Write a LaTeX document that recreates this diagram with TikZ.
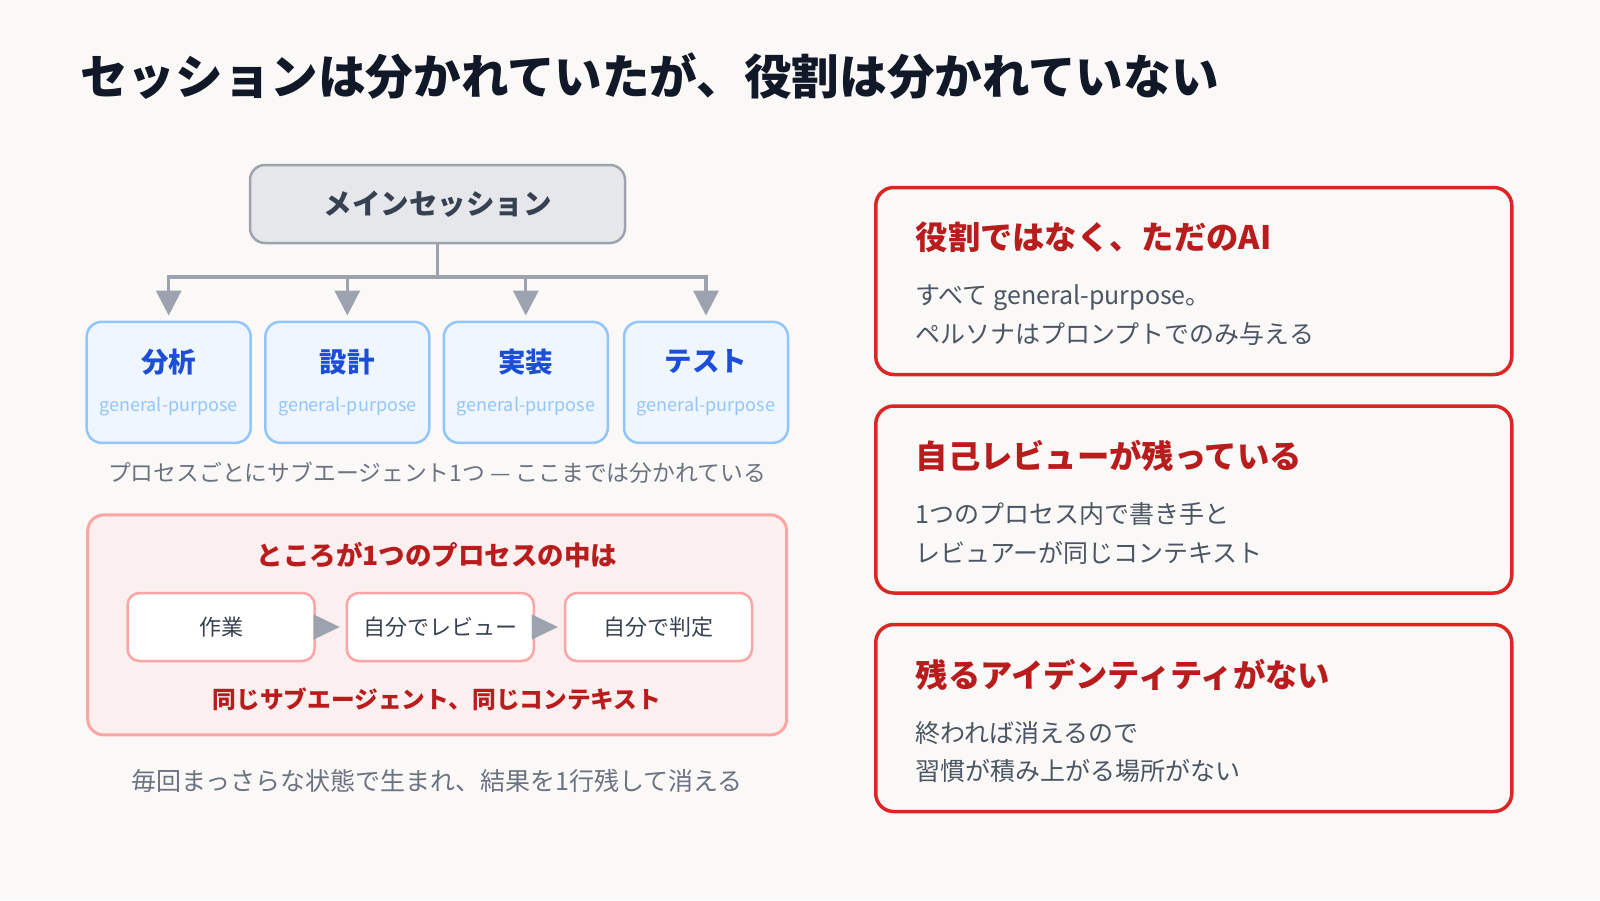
\documentclass[tikz,border=0pt]{standalone}
\usepackage{fontspec}
\setmainfont{Noto Sans CJK JP}
\usepackage{tikz}
\usetikzlibrary{arrows.meta}
\usepackage{color}
\definecolor{pagebg}{HTML}{FAF9F7}
\definecolor{inkdark}{HTML}{111827}
\definecolor{maintext}{HTML}{374151}
\definecolor{mainfill}{HTML}{E5E7EB}
\definecolor{linegray}{HTML}{9CA3AF}
\definecolor{subfill}{HTML}{EFF6FF}
\definecolor{subline}{HTML}{93C5FD}
\definecolor{subtext}{HTML}{1D4ED8}
\definecolor{notegray}{HTML}{6B7280}
\definecolor{bodygray}{HTML}{4B5563}
\definecolor{pinkfill}{HTML}{FCEFEF}
\definecolor{pinkline}{HTML}{FCA5A5}
\definecolor{redline}{HTML}{DC2626}
\definecolor{redtext}{HTML}{B91C1C}

\begin{document}
\begin{tikzpicture}[x=1pt, y=-1pt,
	headline/.style={anchor=west, inner sep=0pt, text=inkdark, font=\bfseries\fontsize{47.6}{56}\selectfont},
	mainbox/.style={draw=linegray, fill=mainfill, line width=2.5pt, rounded corners=15pt, minimum width=375pt, minimum height=78pt, text=maintext, font=\bfseries\fontsize{28.5}{34}\selectfont},
	subbox/.style={draw=subline, fill=subfill, line width=2.5pt, rounded corners=15pt, minimum width=164pt, minimum height=121pt},
	subname/.style={inner sep=0pt, text=subtext, font=\bfseries\fontsize{27.5}{32}\selectfont},
	subnote/.style={inner sep=0pt, text=subline, font=\fontsize{18}{22}\selectfont},
	tree/.style={draw=linegray, line width=3.3pt},
	treearrow/.style={tree, -{Triangle[length=25pt, width=25pt]}, shorten >=5pt},
	caption/.style={inner sep=0pt, text=notegray, font=\fontsize{22.8}{28}\selectfont},
	processbox/.style={draw=pinkline, fill=pinkfill, line width=3pt, rounded corners=16pt, minimum width=699pt, minimum height=220pt},
	processtext/.style={inner sep=0pt, text=redtext, font=\bfseries\fontsize{26.5}{30}\selectfont},
	stepbox/.style={draw=pinkline, fill=white, line width=2.5pt, rounded corners=12pt, minimum width=187pt, minimum height=68pt, text=maintext, font=\fontsize{22}{26}\selectfont},
	steptip/.style={draw=linegray, line width=0.4pt, -{Triangle[length=26pt, width=25pt]}, shorten >=6pt},
	notebox/.style={draw=redline, fill=pagebg, line width=3.5pt, rounded corners=18pt, minimum width=636pt, minimum height=187pt},
	notehead/.style={anchor=west, inner sep=0pt, text=redtext, font=\bfseries\fontsize{32.3}{38}\selectfont},
	notebody/.style={anchor=west, align=left, inner sep=0pt, text=bodygray, font=\fontsize{25}{38.7}\selectfont}]
	\fill[pagebg] (0,0) rectangle (1600,900);
	\useasboundingbox (0,0) rectangle (1600,900);
	\node[headline] (headline) at (80,76.5) {セッションは分かれていたが、役割は分かれていない};
	\node[mainbox] (main) at (437.5,204) {メインセッション};
	\coordinate (fork) at (437.5,277);
	\draw[tree] (main) -- (fork);
	\foreach \x/\name/\n in {168.7/分析/analysis, 347.3/設計/design, 525.8/実装/impl, 706/テスト/test} {
		\node[subbox] (\n) at (\x,382.3) {};
		\node[subname] (\n-name) at (\x,362) {\name};
		\node[subnote] (\n-note) at (\x,406.7) {general-purpose};
		\draw[treearrow] (fork) -| (\n.north);
	}
	\node[caption] (split-note) at (437,473) {プロセスごとにサブエージェント1つ — ここまでは分かれている};
	\node[processbox] (process) at (437.2,624.9) {};
	\node[processtext] (process-head) at (437,555) {ところが1つのプロセスの中は};
	\node[processtext, font=\bfseries\fontsize{23.7}{28}\selectfont] (process-foot) at (437,699) {同じサブエージェント、同じコンテキスト};
	\foreach \x/\t/\n in {221/作業/work, 440.3/自分でレビュー/review, 658.5/自分で判定/judge}
		\node[stepbox] (\n) at (\x,627) {\t};
	\draw[steptip] (work) -- (review);
	\draw[steptip] (review) -- (judge);
	\node[caption, font=\fontsize{25}{30}\selectfont] (life-note) at (437,780.6) {毎回まっさらな状態で生まれ、結果を1行残して消える};
	\foreach \y/\head/\body/\n in {281/{役割ではなく、ただのAI}/{すべて general-purpose。\\ペルソナはプロンプトでのみ与える}/role,
		499.5/{自己レビューが残っている}/{1つのプロセス内で書き手と\\レビュアーが同じコンテキスト}/review-note,
		718/{残るアイデンティティがない}/{終われば消えるので\\習慣が積み上がる場所がない}/identity} {
		\node[notebox] (\n) at (1193.75,\y) {};
		\node[notehead] (\n-head) at ([shift={(41.5,-43.4)}]\n.west) {\head};
		\node[notebody] (\n-body) at ([shift={(41.5,34)}]\n.west) {\body};
	}
\end{tikzpicture}
\end{document}
